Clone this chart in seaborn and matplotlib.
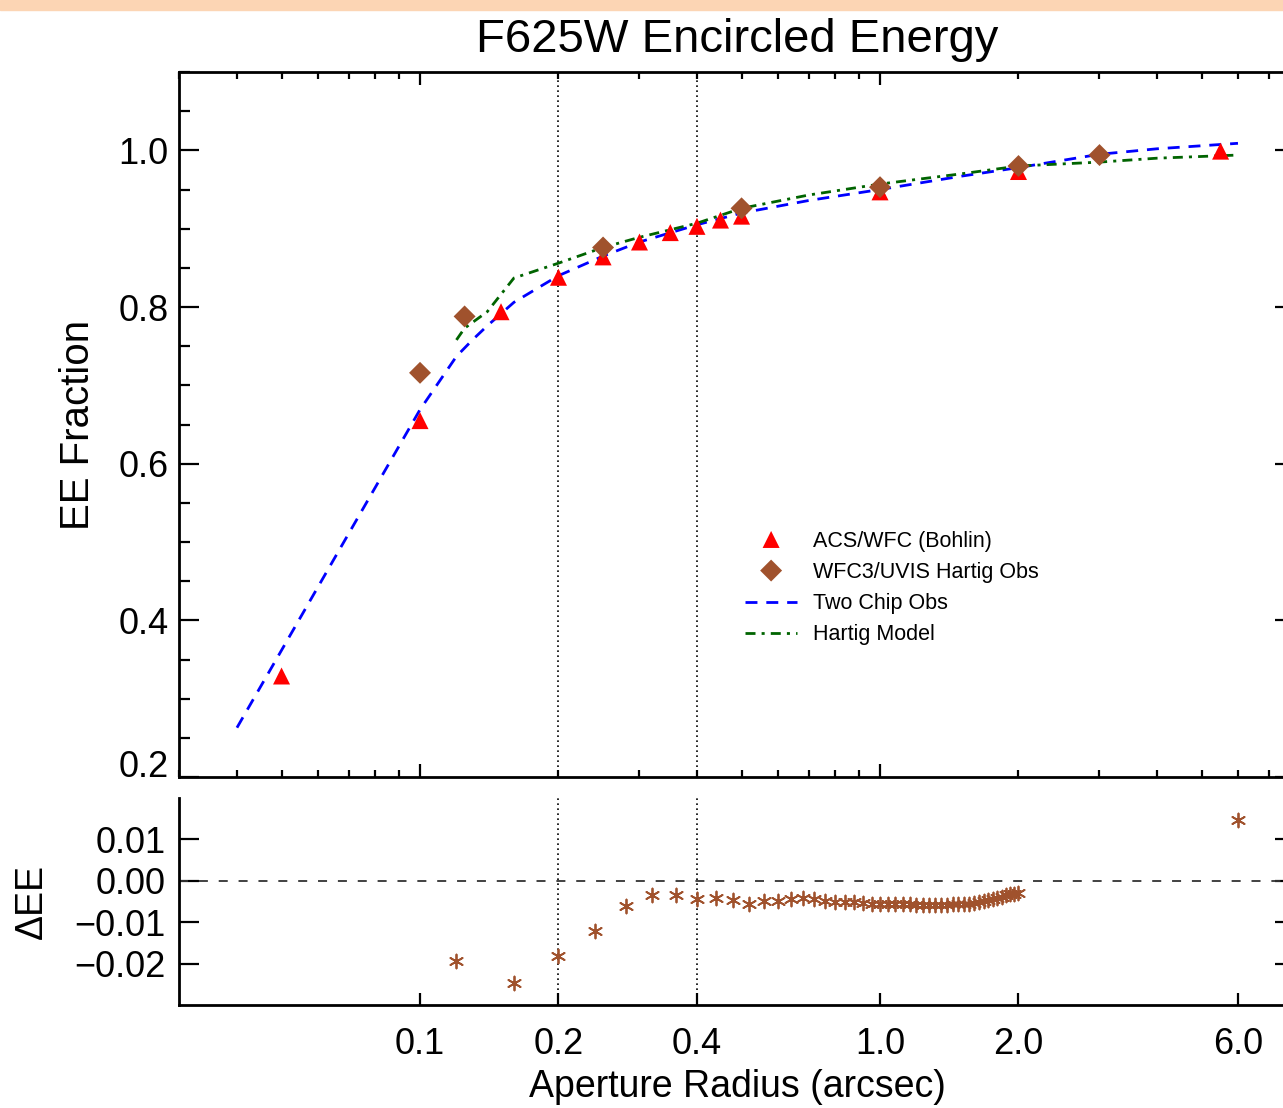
import matplotlib
matplotlib.use("Agg")
from matplotlib import pyplot as plt
from matplotlib import ticker
from matplotlib.patches import Rectangle
import seaborn as sns

# ACS/WFC (Bohlin) - red triangles
acs_r = [0.05, 0.10, 0.15, 0.20, 0.25, 0.30, 0.35, 0.40, 0.45, 0.50, 1.00, 2.00, 5.50]
acs_ee = [0.329, 0.655, 0.794, 0.838, 0.864, 0.883, 0.895, 0.903, 0.911, 0.916, 0.947, 0.973, 0.999]

# WFC3/UVIS Hartig Obs - diamonds
uvis_r = [0.10, 0.125, 0.25, 0.50, 1.00, 2.00, 3.00]
uvis_ee = [0.716, 0.788, 0.876, 0.926, 0.953, 0.980, 0.994]

# Two Chip Obs - blue dashed
chip_r = [0.04, 0.10, 0.12, 0.13, 0.14, 0.16, 0.18, 0.20, 0.25, 0.30, 0.40, 0.50,
          0.70, 1.00, 1.50, 2.00, 3.00, 4.00, 6.00]
chip_ee = [0.263, 0.669, 0.737, 0.758, 0.776, 0.806, 0.824, 0.840, 0.865, 0.883, 0.905, 0.920,
           0.936, 0.950, 0.967, 0.978, 0.995, 1.002, 1.009]

# Hartig Model - green dash dot
model_r = [0.12, 0.125, 0.14, 0.16, 0.20, 0.25, 0.30, 0.40, 0.50, 0.70, 1.00, 1.50,
           2.00, 3.00, 4.00, 6.00]
model_ee = [0.758, 0.773, 0.794, 0.837, 0.856, 0.876, 0.889, 0.907, 0.926, 0.943, 0.957, 0.970,
            0.980, 0.985, 0.990, 0.994]

# delta EE (spodni panel)
diff_r = [0.12, 0.16, 0.20, 0.24, 0.28, 0.32, 0.36, 0.40, 0.44, 0.48, 0.52, 0.56,
          0.60, 0.64, 0.68, 0.72, 0.76, 0.80, 0.84, 0.88, 0.92, 0.96, 1.00, 1.04,
          1.08, 1.12, 1.16, 1.20, 1.24, 1.28, 1.32, 1.36, 1.40, 1.44, 1.48, 1.52,
          1.56, 1.60, 1.64, 1.68, 1.72, 1.76, 1.80, 1.84, 1.88, 1.92, 1.96, 2.00, 6.00]
diff_ee = [-0.0195, -0.0248, -0.0181, -0.0121, -0.0060, -0.0034, -0.0034, -0.0044, -0.0042,
           -0.0047, -0.0056, -0.0050, -0.0050, -0.0044, -0.0042, -0.0044, -0.0049, -0.0051,
           -0.0051, -0.0051, -0.0054, -0.0055, -0.0056, -0.0057, -0.0057, -0.0057, -0.0057,
           -0.0058, -0.0058, -0.0058, -0.0058, -0.0058, -0.0058, -0.0057, -0.0057, -0.0056,
           -0.0055, -0.0054, -0.0052, -0.0050, -0.0047, -0.0044, -0.0041, -0.0038, -0.0035,
           -0.0033, -0.0031, -0.0029, 0.0147]

ref_radii = [0.2, 0.4]
bottom_ticks = [0.1, 0.2, 0.4, 1.0, 2.0, 6.0]
bottom_labels = ["0.1", "0.2", "0.4", "1.0", "2.0", "6.0"]

sns.set_style("white")
plt.rcParams['font.family'] = ['Liberation Sans', 'DejaVu Sans']
plt.rcParams['axes.linewidth'] = 2.0
plt.rcParams['axes.edgecolor'] = 'black'
plt.rcParams['text.color'] = 'black'
plt.rcParams['axes.labelcolor'] = 'black'
plt.rcParams['xtick.color'] = 'black'
plt.rcParams['ytick.color'] = 'black'

fig = plt.figure(figsize=(12.83, 11.08), dpi=100)
# oranzovy pruh nahore
fig.patches.append(Rectangle((0, 1 - 10 / 1108), 1, 10 / 1108, transform=fig.transFigure,
                             color='#fcd5b4', zorder=0))

ax1 = fig.add_axes([0.1399, 0.2987, 0.8698, 0.6363])
ax2 = fig.add_axes([0.1399, 0.0930, 0.8698, 0.1868])

for a in (ax1, ax2):
    a.set_xscale('log')
    a.set_xlim(0.03, 8.0)
    for r in ref_radii:
        a.axvline(r, color='black', lw=1.2, linestyle=(0, (1, 2)), zorder=1)

# horni panel
sns.lineplot(x=chip_r, y=chip_ee, ax=ax1, color='blue', lw=2, linestyle=(0, (4.3, 3.2)),
             label='Two Chip Obs', errorbar=None, sort=False)
sns.lineplot(x=model_r, y=model_ee, ax=ax1, color='#006400', lw=2,
             linestyle=(0, (3.6, 2.2, 1.1, 2.2)), label='Hartig Model', errorbar=None, sort=False)
sns.scatterplot(x=acs_r, y=acs_ee, ax=ax1, marker='^', s=150, color='red', edgecolor='none',
                label='ACS/WFC (Bohlin)', zorder=3)
sns.scatterplot(x=uvis_r, y=uvis_ee, ax=ax1, marker='D', s=125, color='sienna', edgecolor='none',
                label='WFC3/UVIS Hartig Obs', zorder=4)

ax1.set_ylim(0.2, 1.1)
ax1.set_yticks([0.2, 0.4, 0.6, 0.8, 1.0])
ax1.set_yticklabels(["0.2", "0.4", "0.6", "0.8", "1.0"])
ax1.yaxis.set_minor_locator(ticker.MultipleLocator(0.05))
ax1.xaxis.set_major_formatter(ticker.NullFormatter())
ax1.xaxis.set_minor_formatter(ticker.NullFormatter())
ax1.tick_params(axis='both', which='both', direction='in', top=True, right=True,
                bottom=True, left=True, labelbottom=False, width=1.6, colors='black')
ax1.tick_params(axis='x', which='major', length=9.5)
ax1.tick_params(axis='x', which='minor', length=5)
ax1.tick_params(axis='y', which='major', length=14.5, labelsize=26, pad=8)
ax1.tick_params(axis='y', which='minor', length=8)
ax1.yaxis.get_major_ticks()[0].label1.set_va('baseline')

ax1.set_xlabel("")
ax1.set_ylabel("EE Fraction", fontsize=29)
ax1.yaxis.set_label_coords(-0.074, 0.5)
ax1.set_title("F625W Encircled Energy", fontsize=34, pad=14.5)

# legenda ve spravnem poradi
h, l = ax1.get_legend_handles_labels()
order = ['ACS/WFC (Bohlin)', 'WFC3/UVIS Hartig Obs', 'Two Chip Obs', 'Hartig Model']
hd = dict(zip(l, h))
ax1.legend([hd[k] for k in order], order, loc='upper left', bbox_to_anchor=(0.507, 0.349),
           frameon=False, fontsize=15.5, handlelength=2.4, handletextpad=0.75,
           labelspacing=0.47, borderpad=0, borderaxespad=0, scatterpoints=1,
           scatteryoffsets=[0.5])

# spodni panel
ax2.axhline(0, color='#333333', lw=1.3, linestyle=(0, (5, 6)), zorder=1)
sns.scatterplot(x=diff_r, y=diff_ee, ax=ax2, marker=(6, 2, 0), s=100, color='sienna',
                linewidth=1.3, zorder=3)

ax2.set_ylim(-0.03, 0.02)
ax2.set_yticks([-0.02, -0.01, 0.0, 0.01])
ax2.yaxis.set_major_formatter(ticker.FuncFormatter(
    lambda v, p: ("%.2f" % (0.0 if abs(v) < 1e-9 else v)).replace('-', '\u2212')))
ax2.xaxis.set_major_locator(ticker.FixedLocator(bottom_ticks))
ax2.xaxis.set_major_formatter(ticker.FixedFormatter(bottom_labels))
ax2.xaxis.set_minor_locator(ticker.NullLocator())
ax2.spines['top'].set_visible(False)
ax2.tick_params(axis='both', which='major', direction='in', top=False, right=True,
                bottom=True, left=True, width=1.6, colors='black', labelsize=26)
ax2.tick_params(axis='x', length=8.5, pad=16)
ax2.tick_params(axis='y', length=14.5, pad=10)

ax2.set_xlabel("Aperture Radius (arcsec)", fontsize=27, labelpad=5)
ax2.set_ylabel("\u0394EE", fontsize=27)
ax2.yaxis.set_label_coords(-0.116, 0.5)

fig.savefig("out.png", dpi=100)
plt.close(fig)
